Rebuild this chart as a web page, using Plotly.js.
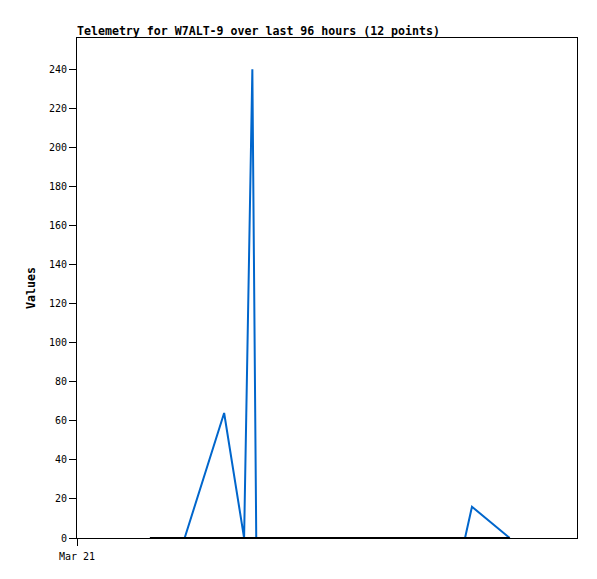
<!DOCTYPE html>
<html>
<head>
<meta charset="utf-8">
<script src="https://cdn.plot.ly/plotly-3.0.1.min.js"></script>
<style>html,body{margin:0;padding:0;background:#fff;}#chart{width:597px;height:579px;}</style>
</head>
<body>
<div id="chart"></div>
<script>
// Telemetry values (12 points)
const times = [
  '2024-03-21 14:00', '2024-03-21 20:40', '2024-03-22 04:15', '2024-03-22 08:05',
  '2024-03-22 09:40', '2024-03-22 10:25', '2024-03-22 20:00', '2024-03-23 06:00',
  '2024-03-23 18:00', '2024-03-24 02:30', '2024-03-24 03:50', '2024-03-24 11:05'
];
const values = [0, 0, 64, 0, 240, 0, 0, 0, 0, 0, 16, 0];
const baselineTimes = ['2024-03-21 14:00', '2024-03-24 11:05'];
const baselineValues = [0, 0];
const yTicks = [0, 20, 40, 60, 80, 100, 120, 140, 160, 180, 200, 220, 240];
const xTickVals = ['2024-03-21 00:00'];
const xTickText = ['Mar 21'];

const mono = 'DejaVu Sans Mono, monospace';

const traces = [
  {x: times, y: values, mode: 'lines', line: {color: '#0066cc', width: 2}},
  {x: baselineTimes, y: baselineValues, mode: 'lines', line: {color: '#000000', width: 2}, hoverinfo: 'skip'}
];

const layout = {
  width: 597, height: 579,
  margin: {l: 77, r: 20, t: 38, b: 41},
  paper_bgcolor: '#ffffff', plot_bgcolor: '#ffffff',
  showlegend: false,
  font: {family: mono, size: 10, color: '#000'},
  title: {
    text: '<b>Telemetry for W7ALT-9 over last 96 hours (12 points)</b>',
    font: {family: mono, size: 11.6, color: '#000'},
    x: 0, xref: 'paper', xanchor: 'left',
    y: 1 - 31/579, yref: 'container', yanchor: 'middle'
  },
  xaxis: {
    type: 'date',
    range: ['2024-03-21 00:00', '2024-03-25 00:00'],
    tickvals: xTickVals, ticktext: xTickText,
    showgrid: false, zeroline: false,
    showline: true, linecolor: '#000', linewidth: 1, mirror: true,
    ticks: 'outside', ticklen: 7, tickcolor: '#000',
    ticklabelstandoff: 2,
    tickfont: {family: mono, size: 10, color: '#000'}
  },
  yaxis: {
    range: [0, 256],
    tickvals: yTicks,
    showgrid: false, zeroline: false,
    showline: true, linecolor: '#000', linewidth: 1, mirror: true,
    ticks: 'outside', ticklen: 7, tickcolor: '#000',
    tickfont: {family: mono, size: 10, color: '#000'},
    title: {text: '<b>Values</b>', font: {family: mono, size: 11.6, color: '#000'}, standoff: 10}
  }
};

Plotly.newPlot('chart', traces, layout, {displayModeBar: false, staticPlot: true});
</script>
</body>
</html>
